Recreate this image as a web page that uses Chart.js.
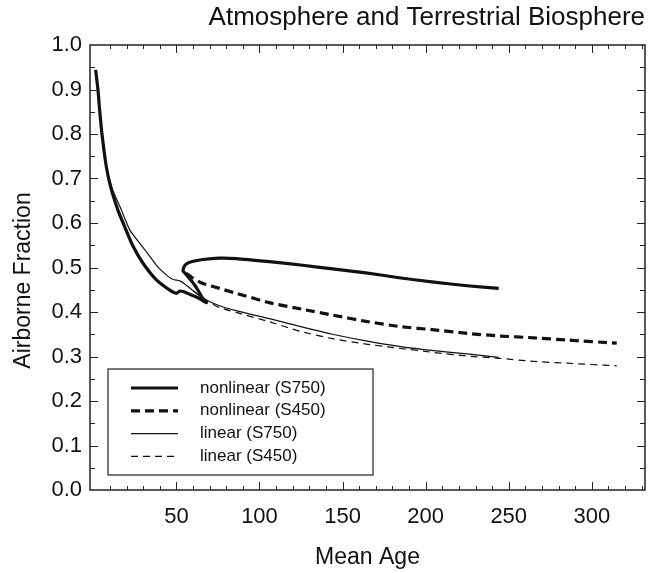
<!DOCTYPE html>
<html>
<head>
<meta charset="utf-8">
<script src="https://cdn.jsdelivr.net/npm/chart.js@4.4.0/dist/chart.umd.min.js"></script>
<style>
  html, body { margin: 0; padding: 0; background: #fff; }
</style>
</head>
<body>
<canvas id="chart" width="656" height="573"></canvas>
<script>
// mean age (x) vs airborne fraction (y), one pair of arrays per run
const nlS750Age = [1.4, 2.8, 3.8, 5.2, 7.8, 10.5, 14.8, 18.5, 24, 30, 38, 46, 50, 52, 54, 58, 63, 68,
                   66, 62, 59, 56, 54, 54.5, 56, 59, 66, 76, 86, 106, 126, 144, 164, 184, 205, 225, 244];
const nlS750AF  = [0.944, 0.899, 0.854, 0.800, 0.727, 0.680, 0.629, 0.595, 0.547, 0.509, 0.472, 0.449, 0.442, 0.447, 0.446, 0.440, 0.432, 0.421,
                   0.430, 0.455, 0.470, 0.484, 0.492, 0.501, 0.508, 0.513, 0.518, 0.521, 0.520, 0.513, 0.505, 0.497, 0.488, 0.477, 0.467, 0.459, 0.453];

const nlS450Age = [56, 60, 66, 76, 86, 106, 126, 144, 164, 185, 205, 225, 245, 265, 285, 315];
const nlS450AF  = [0.487, 0.476, 0.464, 0.453, 0.442, 0.421, 0.406, 0.393, 0.379, 0.367, 0.360, 0.352, 0.346, 0.342, 0.337, 0.330];

const linS750Age = [1.4, 2.8, 3.8, 5.2, 7.8, 11.5, 16.9, 22, 31, 38, 45, 48, 52, 55, 60, 66, 76, 86, 106, 126, 144, 164, 185, 205, 225, 244];
const linS750AF  = [0.944, 0.899, 0.854, 0.800, 0.727, 0.676, 0.629, 0.584, 0.540, 0.505, 0.480, 0.473, 0.470, 0.463, 0.448, 0.431, 0.414, 0.403, 0.385, 0.366, 0.350, 0.335, 0.322, 0.313, 0.306, 0.298];

const linS450Age = [60, 66, 76, 86, 106, 124, 144, 164, 185, 205, 225, 244, 265, 285, 315];
const linS450AF  = [0.448, 0.430, 0.410, 0.399, 0.378, 0.357, 0.340, 0.328, 0.318, 0.309, 0.301, 0.296, 0.289, 0.285, 0.279];

const seriesNames = ['nonlinear (S750)', 'nonlinear (S450)', 'linear (S750)', 'linear (S450)'];
const xTickValues = [50, 100, 150, 200, 250, 300];
const yTitle = 'Airborne Fraction';

const FONT = "'Liberation Sans', Arial, Helvetica, sans-serif";
const INK = '#111';

function pts(xs, ys) {
    return xs.map((v, i) => ({x: v, y: ys[i]}));
}

function run(name, xs, ys, width, dash) {
    return {
        label: name,
        data: pts(xs, ys),
        showLine: true,
        borderColor: INK,
        backgroundColor: INK,
        borderWidth: width,
        borderDash: dash,
        pointRadius: 0,
        tension: 0.2,
        fill: false
    };
}

// box round the plot with inward ticks on all four sides
const frameTicks = {
    id: 'frameTicks',
    afterDraw(chart) {
        const {ctx, chartArea: a, scales: {x, y}} = chart;
        ctx.save();
        ctx.strokeStyle = '#222';
        ctx.lineWidth = 1.5;
        ctx.strokeRect(a.left, a.top, a.right - a.left, a.bottom - a.top);
        ctx.lineWidth = 1;
        ctx.beginPath();
        for (let v = 10; v <= 330; v += 10) {
            const px = Math.round(x.getPixelForValue(v)) + 0.5;
            const len = v % 50 === 0 ? 8 : 4;
            ctx.moveTo(px, a.bottom); ctx.lineTo(px, a.bottom - len);
            ctx.moveTo(px, a.top); ctx.lineTo(px, a.top + len);
        }
        for (let i = 1; i < 20; i++) {
            const py = Math.round(y.getPixelForValue(i * 0.05)) + 0.5;
            const len = i % 2 === 0 ? 8 : 5;
            ctx.moveTo(a.left, py); ctx.lineTo(a.left + len, py);
            ctx.moveTo(a.right, py); ctx.lineTo(a.right - len, py);
        }
        ctx.stroke();

        // y axis title, sits a little below the middle of the axis
        ctx.translate(24, (a.top + a.bottom) / 2 + 13);
        ctx.rotate(-Math.PI / 2);
        ctx.font = '23px ' + FONT;
        ctx.fillStyle = INK;
        ctx.textAlign = 'center';
        ctx.textBaseline = 'middle';
        ctx.fillText(yTitle, 0, 0);
        ctx.restore();
    }
};

// framed legend in the lower left corner of the plot
const boxLegend = {
    id: 'boxLegend',
    afterDraw(chart) {
        const {ctx, chartArea: a} = chart;
        const left = a.left + 18, top = a.bottom - 121, w = 265, h = 106;
        ctx.save();
        ctx.fillStyle = '#fff';
        ctx.fillRect(left, top, w, h);
        ctx.strokeStyle = '#222';
        ctx.lineWidth = 1.2;
        ctx.strokeRect(left, top, w, h);
        ctx.font = '17px ' + FONT;
        ctx.textBaseline = 'middle';
        chart.data.datasets.forEach((ds, i) => {
            const yy = top + 19 + i * 22.8;
            ctx.strokeStyle = ds.borderColor;
            ctx.lineWidth = ds.borderWidth;
            ctx.setLineDash(ds.borderDash || []);
            ctx.beginPath();
            ctx.moveTo(left + 23, yy);
            ctx.lineTo(left + 70, yy);
            ctx.stroke();
            ctx.setLineDash([]);
            ctx.fillStyle = INK;
            ctx.fillText(ds.label, left + 92, yy);
        });
        ctx.restore();
    }
};

new Chart(document.getElementById('chart'), {
    type: 'scatter',
    data: {
        datasets: [
            run(seriesNames[0], nlS750Age, nlS750AF, 3.2, []),
            run(seriesNames[1], nlS450Age, nlS450AF, 3.2, [9, 5]),
            run(seriesNames[2], linS750Age, linS750AF, 1.2, []),
            run(seriesNames[3], linS450Age, linS450AF, 1.2, [7, 5])
        ]
    },
    options: {
        responsive: false,
        animation: false,
        layout: {padding: {left: 0, right: 11, top: 0, bottom: 0}},
        plugins: {
            legend: {display: false},
            tooltip: {enabled: false},
            title: {
                display: true,
                text: 'Atmosphere and Terrestrial Biosphere',
                align: 'end',
                color: INK,
                font: {family: FONT, size: 26, weight: 'normal'},
                padding: {top: 2, bottom: 11.8}
            }
        },
        scales: {
            x: {
                type: 'linear',
                min: -2,
                max: 332,
                afterFit: s => { s.height = 83; },
                afterBuildTicks: s => { s.ticks = xTickValues.map(v => ({value: v})); },
                grid: {display: false, drawTicks: false},
                border: {display: false},
                ticks: {color: INK, padding: 14, maxRotation: 0, font: {family: FONT, size: 22}},
                title: {display: true, text: 'Mean Age', color: INK, padding: {top: 0, bottom: 2},
                        font: {family: FONT, size: 23}}
            },
            y: {
                type: 'linear',
                min: 0,
                max: 1,
                afterFit: s => { s.width = 90; },
                grid: {display: false, drawTicks: false},
                border: {display: false},
                ticks: {color: INK, padding: 8, stepSize: 0.1, callback: v => v.toFixed(1),
                        font: {family: FONT, size: 22}}
            }
        }
    },
    plugins: [frameTicks, boxLegend]
});
</script>
</body>
</html>
